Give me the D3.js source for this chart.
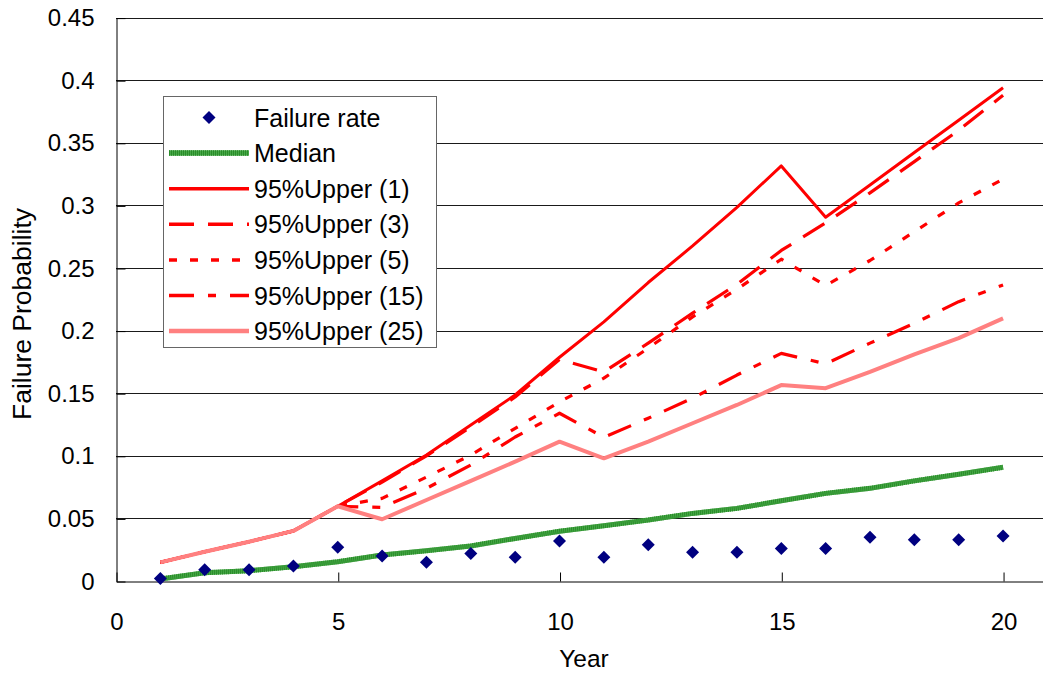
<!DOCTYPE html>
<html>
<head>
<meta charset="utf-8">
<script src="https://cdn.jsdelivr.net/npm/d3@7"></script>
<style>
  html, body { margin: 0; padding: 0; background: #ffffff; }
  svg { display: block; }
  text { font-family: "Liberation Sans", Arial, sans-serif; fill: #000; }
</style>
</head>
<body>
<svg id="chart" width="1043" height="673"></svg>
<script>
// ---- data ----
const years = [1, 2, 3, 4, 5, 6, 7, 8, 9, 10, 11, 12, 13, 14, 15, 16, 17, 18, 19, 20];

const failureRate = [0.002, 0.009, 0.009, 0.012, 0.027, 0.020, 0.015, 0.022, 0.019, 0.032,
                     0.019, 0.029, 0.023, 0.023, 0.026, 0.026, 0.035, 0.033, 0.033, 0.036];

const median = [0.0016, 0.0066, 0.0082, 0.0114, 0.0154, 0.0208, 0.0242, 0.0280, 0.0340, 0.0397,
                0.0442, 0.0487, 0.0540, 0.0580, 0.0641, 0.0700, 0.0740, 0.0800, 0.0852, 0.0908];

const upper1 = [0.0149, 0.0234, 0.0314, 0.0400, 0.0597, 0.0800, 0.1006, 0.1246, 0.1486, 0.1787,
                0.2070, 0.2384, 0.2676, 0.2985, 0.3315, 0.2905, 0.3163, 0.3422, 0.3680, 0.3940];

const upper3 = [0.0149, 0.0234, 0.0314, 0.0400, 0.0597, 0.0790, 0.1000, 0.1230, 0.1470, 0.1770,
                0.1670, 0.1900, 0.2140, 0.2370, 0.2640, 0.2860, 0.3100, 0.3350, 0.3600, 0.3880];

const upper5 = [0.0149, 0.0234, 0.0314, 0.0400, 0.0597, 0.0660, 0.0830, 0.1006, 0.1220, 0.1430,
                0.1620, 0.1860, 0.2110, 0.2330, 0.2570, 0.2360, 0.2560, 0.2790, 0.3020, 0.3210];

const upper15 = [0.0149, 0.0234, 0.0314, 0.0400, 0.0597, 0.0588, 0.0740, 0.0927, 0.1150, 0.1340,
                 0.1148, 0.1300, 0.1460, 0.1645, 0.1818, 0.1735, 0.1900, 0.2058, 0.2231, 0.2364];

const upper25 = [0.0149, 0.0234, 0.0314, 0.0400, 0.0597, 0.0493, 0.0647, 0.0800, 0.0953, 0.1113,
                 0.0980, 0.1113, 0.1260, 0.1406, 0.1565, 0.1540, 0.1670, 0.1810, 0.1940, 0.2098];

const xTicks = [0, 5, 10, 15, 20];
const yTicks = [0, 0.05, 0.1, 0.15, 0.2, 0.25, 0.3, 0.35, 0.4, 0.45];
const yTickLabels = ["0", "0.05", "0.1", "0.15", "0.2", "0.25", "0.3", "0.35", "0.4", "0.45"];

const legendLabels = ["Failure rate", "Median", "95%Upper (1)", "95%Upper (3)",
                      "95%Upper (5)", "95%Upper (15)", "95%Upper (25)"];

// ---- layout ----
const W = 1043, H = 673;
const svg = d3.select("#chart");

const x = d3.scaleLinear().domain([0, 21]).range([116, 1047.4]);
const y = d3.scaleLinear().domain([0, 0.45]).range([581, 17.6]);

const crisp = v => Math.round(v) + 0.5;

// horizontal gridlines
svg.append("g")
  .selectAll("line")
  .data(yTicks.filter(t => t > 0))
  .join("line")
  .attr("x1", x(0)).attr("x2", W)
  .attr("y1", d => crisp(y(d))).attr("y2", d => crisp(y(d)))
  .attr("stroke", "#1a1a1a").attr("stroke-width", 1);

// axes
const fs = 24;
const yAxis = d3.axisLeft(y)
  .tickValues(yTicks)
  .tickFormat((d, i) => yTickLabels[i])
  .tickSize(-9).tickSizeOuter(0).tickPadding(22);

const gy = svg.append("g")
  .attr("transform", `translate(${crisp(x(0))},0.5)`)
  .call(yAxis);

const xAxis = d3.axisBottom(x)
  .tickValues(xTicks)
  .tickFormat(d3.format("d"))
  .tickSize(-9).tickSizeOuter(0).tickPadding(31);

const gx = svg.append("g")
  .attr("transform", `translate(0.5,${Math.round(y(0)) + 0.5})`)
  .call(xAxis);

[gx, gy].forEach(g => {
  g.select(".domain").attr("stroke", "#000").attr("stroke-width", 1);
  g.selectAll(".tick line").attr("stroke", "#000");
  g.selectAll(".tick text")
    .style("font-family", '"Liberation Sans", Arial, sans-serif')
    .style("font-size", fs + "px")
    .attr("fill", "#000");
});

// axis titles
svg.append("text")
  .attr("transform", `translate(31,314) rotate(-90)`)
  .attr("text-anchor", "middle")
  .style("font-size", "26.5px")
  .text("Failure Probability");

svg.append("text")
  .attr("x", 584).attr("y", 667)
  .attr("text-anchor", "middle")
  .style("font-size", "24.5px")
  .text("Year");

// ---- series ----
const toPts = arr => years.map((yr, i) => ({ yr, v: arr[i] }));
const line = d3.line().x(d => x(d.yr)).y(d => y(d.v));

const plot = svg.append("g");

// median: thick green with fine vertical striping
plot.append("path")
  .attr("d", line(toPts(median)))
  .attr("fill", "none").attr("stroke", "#46a846").attr("stroke-width", 5);
plot.append("path")
  .attr("d", line(toPts(median)))
  .attr("fill", "none").attr("stroke", "#2a8c2a").attr("stroke-width", 5)
  .attr("stroke-dasharray", "1,1");

// upper bounds, drawn in series order so later ones sit on top
const seriesStyles = [
  { data: upper1,  color: "#ff0000", width: 3,   dash: null },
  { data: upper3,  color: "#ff0000", width: 3.2, dash: "25,14" },
  { data: upper5,  color: "#ff0000", width: 3.2, dash: "8,13" },
  { data: upper15, color: "#ff0000", width: 3.2, dash: "25,14,8,14" },
  { data: upper25, color: "#ff8080", width: 4,   dash: null }
];

seriesStyles.forEach(s => {
  plot.append("path")
    .attr("d", line(toPts(s.data)))
    .attr("fill", "none")
    .attr("stroke", s.color)
    .attr("stroke-width", s.width)
    .attr("stroke-linejoin", "round")
    .attr("stroke-dasharray", s.dash);
});

// failure-rate markers (diamonds), on top of the lines
const diamond = (cx, cy, r) => `M${cx},${cy - r}L${cx + r},${cy}L${cx},${cy + r}L${cx - r},${cy}Z`;
plot.append("g")
  .selectAll("path")
  .data(toPts(failureRate))
  .join("path")
  .attr("d", d => diamond(x(d.yr), y(d.v), 6.5))
  .attr("fill", "#000080");

// ---- legend ----
const lg = svg.append("g");
lg.append("rect")
  .attr("x", 163.5).attr("y", 96.5)
  .attr("width", 273).attr("height", 251)
  .attr("fill", "#fff").attr("stroke", "#666").attr("stroke-width", 1);

const rowY = i => 117.5 + i * 35.6;
const lx1 = 169, lx2 = 249, tx = 254;

const legendSymbols = [
  { type: "marker" },
  { type: "median" },
  { color: "#ff0000", width: 3.5, dash: null },
  { color: "#ff0000", width: 3.5, dash: "25,14" },
  { color: "#ff0000", width: 3.5, dash: "8,13" },
  { color: "#ff0000", width: 3.5, dash: "25,14,8,14" },
  { color: "#ff8080", width: 4.5, dash: null }
];

legendSymbols.forEach((s, i) => {
  const cy = rowY(i);
  if (s.type === "marker") {
    lg.append("path").attr("d", diamond((lx1 + lx2) / 2, cy, 6.5)).attr("fill", "#000080");
  } else if (s.type === "median") {
    lg.append("line").attr("x1", lx1).attr("x2", lx2).attr("y1", cy).attr("y2", cy)
      .attr("stroke", "#46a846").attr("stroke-width", 5.5);
    lg.append("line").attr("x1", lx1).attr("x2", lx2).attr("y1", cy).attr("y2", cy)
      .attr("stroke", "#2a8c2a").attr("stroke-width", 5.5).attr("stroke-dasharray", "1,1");
  } else {
    lg.append("line").attr("x1", lx1).attr("x2", lx2).attr("y1", cy).attr("y2", cy)
      .attr("stroke", s.color).attr("stroke-width", s.width)
      .attr("stroke-dasharray", s.dash);
  }
  lg.append("text")
    .attr("x", tx).attr("y", cy + 9)
    .style("font-size", "25px")
    .text(legendLabels[i]);
});
</script>
</body>
</html>
